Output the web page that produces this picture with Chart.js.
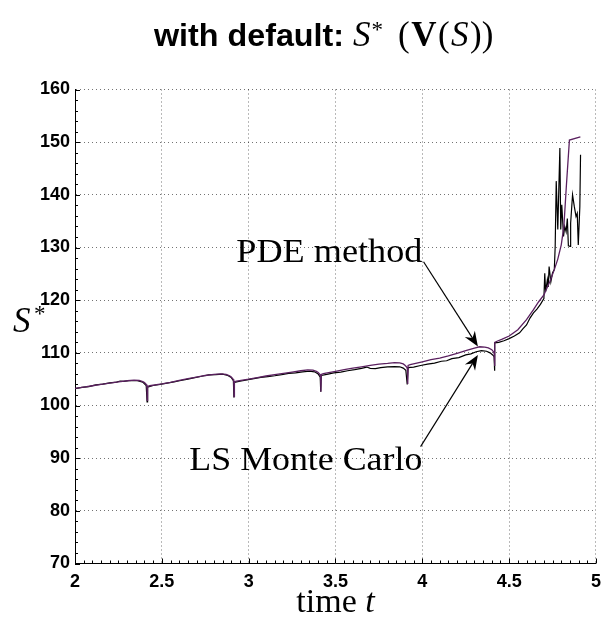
<!DOCTYPE html>
<html>
<head>
<meta charset="utf-8">
<script src="https://cdn.jsdelivr.net/npm/chart.js@4.4.0/dist/chart.umd.min.js"></script>
<style>
  html, body { margin: 0; padding: 0; background: #fff; }
  #wrap { position: relative; width: 609px; height: 622px; }
</style>
</head>
<body>
<div id="wrap"><canvas id="chart" width="609" height="622"></canvas></div>
<script>
// --- values ---
// PDE method (purple)
const pdeT = [2.00, 2.05, 2.10, 2.15, 2.20, 2.25, 2.30, 2.34, 2.37, 2.39, 2.40, 2.41, 2.414, 2.416, 2.418, 2.43,
  2.50, 2.55, 2.60, 2.65, 2.70, 2.75, 2.80, 2.84, 2.87, 2.89, 2.90, 2.91, 2.914, 2.916, 2.918, 2.93,
  3.00, 3.05, 3.10, 3.15, 3.20, 3.25, 3.30, 3.34, 3.37, 3.39, 3.40, 3.41, 3.414, 3.416, 3.418, 3.43,
  3.50, 3.55, 3.60, 3.65, 3.70, 3.75, 3.80, 3.84, 3.87, 3.89, 3.90, 3.91, 3.914, 3.916, 3.918, 3.93,
  4.00, 4.05, 4.10, 4.15, 4.20, 4.25, 4.30, 4.33, 4.36, 4.38, 4.40, 4.41, 4.414, 4.416, 4.418,
  4.43, 4.46, 4.50, 4.55, 4.60, 4.64, 4.67, 4.70, 4.735, 4.76, 4.78, 4.80, 4.815, 4.83, 4.847, 4.91];
const pdeS = [103.25, 103.5, 103.75, 104.0, 104.25, 104.5, 104.7, 104.8, 104.75, 104.55, 104.35, 104.0, 103.6, 101.0, 103.6, 103.75,
  104.1, 104.4, 104.75, 105.1, 105.4, 105.7, 105.9, 106.0, 105.9, 105.65, 105.4, 105.0, 104.6, 101.7, 104.5, 104.65,
  105.0, 105.3, 105.6, 105.85, 106.1, 106.35, 106.6, 106.75, 106.7, 106.5, 106.25, 105.9, 105.5, 102.6, 105.9, 106.05,
  106.5, 106.8, 107.1, 107.35, 107.6, 107.85, 108.0, 108.15, 108.1, 107.9, 107.65, 107.3, 106.9, 104.1, 107.6, 107.75,
  108.3, 108.7, 109.0, 109.4, 109.9, 110.4, 110.9, 111.15, 111.1, 110.95, 110.6, 110.2, 109.8, 107.5, 112.0,
  112.2, 112.6, 113.2, 114.4, 116.3, 118.2, 119.7, 121.0, 123.6, 125.8, 127.8, 130.5, 134.0, 142.0, 150.4, 151.0];

// LS Monte Carlo (black)
const mcT = [2.00, 2.04, 2.08, 2.12, 2.16, 2.20, 2.24, 2.26, 2.28, 2.32, 2.36, 2.39, 2.41, 2.415, 2.418,
  2.45, 2.49, 2.53, 2.57, 2.61, 2.65, 2.69, 2.73, 2.77, 2.81, 2.85, 2.88, 2.90, 2.912, 2.915, 2.918,
  2.95, 2.99, 3.03, 3.07, 3.11, 3.15, 3.19, 3.23, 3.27, 3.31, 3.35, 3.38, 3.40, 3.412, 3.415, 3.418,
  3.45, 3.49, 3.53, 3.57, 3.61, 3.65, 3.68, 3.70, 3.73, 3.76, 3.80, 3.84, 3.87, 3.89, 3.905, 3.913, 3.918,
  3.95, 3.99, 4.03, 4.07, 4.11, 4.14, 4.17, 4.21, 4.25, 4.28, 4.31, 4.34, 4.37, 4.39, 4.405, 4.413, 4.415, 4.418,
  4.44, 4.47, 4.50, 4.53, 4.56, 4.58, 4.60, 4.62, 4.64, 4.66, 4.68, 4.70, 4.705, 4.71, 4.72, 4.725, 4.73, 4.74,
  4.75, 4.76, 4.765, 4.771, 4.78, 4.792, 4.797, 4.803, 4.813, 4.82, 4.828, 4.835, 4.841, 4.851, 4.854,
  4.865, 4.875, 4.885, 4.892, 4.898, 4.907, 4.911];
const mcS = [103.2, 103.45, 103.6, 103.9, 104.05, 104.3, 104.45, 104.65, 104.6, 104.75, 104.7, 104.45, 103.8, 100.7, 103.5,
  103.8, 104.0, 104.25, 104.5, 104.75, 105.0, 105.3, 105.55, 105.8, 105.85, 105.95, 105.7, 105.3, 104.7, 101.5, 104.4,
  104.6, 104.85, 105.1, 105.35, 105.5, 105.65, 105.85, 106.1, 106.2, 106.4, 106.5, 106.4, 106.0, 105.4, 102.6, 105.7,
  105.9, 106.2, 106.35, 106.6, 106.8, 107.05, 107.3, 107.05, 107.0, 107.2, 107.35, 107.4, 107.35, 107.1, 106.7, 104.0, 107.2,
  107.3, 107.6, 107.85, 108.05, 108.4, 108.5, 108.9, 109.1, 109.6, 109.8, 110.2, 110.4, 110.3, 110.0, 109.6, 109.3, 106.6, 111.9,
  112.0, 112.3, 112.7, 113.2, 113.8, 114.6, 115.3, 116.6, 117.6, 118.3, 119.2, 120.3, 125.1, 121.6, 123.9, 122.5, 126.4, 123.5,
  125.2, 125.8, 130.2, 142.6, 133.4, 148.9, 133.4, 138.1, 132.1, 134.0, 133.0, 135.5, 130.3, 130.2, 134.6,
  140.0, 137.8, 135.9, 136.5, 130.5, 137.8, 147.6];

const xTicks = [2, 2.5, 3, 3.5, 4, 4.5, 5];
const yTicks = [70, 80, 90, 100, 110, 120, 130, 140, 150, 160];

// annotation anchors, in data units
const pdeLabel = { t: 4.0, s: 127.3, tipT: 4.32, tipS: 111.2 };
const mcLabel = { t: 4.0, s: 87.7, tipT: 4.32, tipS: 109.6, startS: 92.2 };

const toXY = (ts, ss) => ts.map((t, i) => ({ x: t, y: ss[i] }));

const serif = '"Liberation Serif", "DejaVu Serif", serif';
const sans = '"Liberation Sans", Arial, sans-serif';

function arrow(ctx, x1, y1, x2, y2) {
  const a = Math.atan2(y2 - y1, x2 - x1);
  const len = 15, half = 6, notch = 10;
  ctx.beginPath();
  ctx.moveTo(x1, y1);
  ctx.lineTo(x2 - Math.cos(a) * notch, y2 - Math.sin(a) * notch);
  ctx.lineWidth = 1.2;
  ctx.strokeStyle = '#000';
  ctx.stroke();
  const bx = x2 - Math.cos(a) * len, by = y2 - Math.sin(a) * len;
  const nx = -Math.sin(a), ny = Math.cos(a);
  ctx.beginPath();
  ctx.moveTo(x2, y2);
  ctx.lineTo(bx + nx * half, by + ny * half);
  ctx.lineTo(x2 - Math.cos(a) * notch, y2 - Math.sin(a) * notch);
  ctx.lineTo(bx - nx * half, by - ny * half);
  ctx.closePath();
  ctx.fillStyle = '#000';
  ctx.fill();
}

// text squeezed/stretched to a given width, right aligned at x
function fitText(ctx, str, xRight, y, w) {
  const m = ctx.measureText(str).width;
  ctx.save();
  ctx.translate(xRight - w, y);
  ctx.scale(w / m, 1);
  ctx.textAlign = 'left';
  ctx.fillText(str, 0, 0);
  ctx.restore();
}

const decor = {
  id: 'decor',
  afterDraw(chart) {
    const { ctx, scales: { x, y }, chartArea: ca } = chart;
    ctx.save();

    // inward ticks, MATLAB style
    ctx.strokeStyle = '#000';
    ctx.lineWidth = 1;
    ctx.beginPath();
    for (let i = 0; i <= 45; i++) {
      const py = Math.round(y.getPixelForValue(70 + i * 2)) + 0.5;
      const l = i % 5 === 0 ? 5 : 3;
      ctx.moveTo(ca.left, py); ctx.lineTo(ca.left + l, py);
    }
    for (let i = 0; i <= 60; i++) {
      const px = Math.round(x.getPixelForValue(2 + i * 0.05)) + 0.5;
      const l = i % 10 === 0 ? 5 : 3;
      ctx.moveTo(px, ca.bottom); ctx.lineTo(px, ca.bottom - l);
    }
    ctx.stroke();

    // title
    const tb = 46;
    ctx.fillStyle = '#000';
    ctx.textBaseline = 'alphabetic';
    ctx.textAlign = 'left';
    ctx.font = 'bold 32px ' + sans;
    fitText(ctx, 'with default:', 344, tb, 190);
    let cx = 353;
    ctx.font = 'italic 35px ' + serif;
    ctx.fillText('S', cx, tb);
    cx += ctx.measureText('S').width + 1;
    ctx.font = '23px ' + serif;
    ctx.fillText('*', cx, tb - 9);
    cx = 398;
    const parts = [['(', '35px '], ['V', 'bold 35px '], ['(', '35px '], ['S', 'italic 35px '], ['))', '35px ']];
    parts.forEach(([s, f]) => {
      ctx.font = f + serif;
      ctx.fillText(s, cx, tb);
      cx += ctx.measureText(s).width + 1.5;
    });

    // y label
    ctx.font = 'italic 35px ' + serif;
    ctx.fillText('S', 13, 332);
    ctx.font = '23px ' + serif;
    ctx.fillText('*', 34, 321);

    // x label
    ctx.font = '34px ' + serif;
    const w1 = ctx.measureText('time ').width;
    ctx.font = 'italic 34px ' + serif;
    const w2 = ctx.measureText('t').width;
    const lx = (ca.left + ca.right) / 2 - (w1 + w2) / 2;
    ctx.font = '34px ' + serif;
    ctx.fillText('time ', lx, 612);
    ctx.font = 'italic 34px ' + serif;
    ctx.fillText('t', lx + w1, 612);

    // annotations
    ctx.font = '34px ' + serif;
    const pxr = x.getPixelForValue(pdeLabel.t);
    fitText(ctx, 'PDE method', pxr, y.getPixelForValue(pdeLabel.s), 186);
    fitText(ctx, 'LS Monte Carlo', pxr, y.getPixelForValue(mcLabel.s), 233);
    arrow(ctx, x.getPixelForValue(4.007), y.getPixelForValue(pdeLabel.s),
      x.getPixelForValue(pdeLabel.tipT), y.getPixelForValue(pdeLabel.tipS));
    arrow(ctx, x.getPixelForValue(3.99), y.getPixelForValue(mcLabel.startS),
      x.getPixelForValue(mcLabel.tipT), y.getPixelForValue(mcLabel.tipS));

    ctx.restore();
  }
};

const gridCommon = { color: 'rgba(0,0,0,0.55)', lineWidth: 1, drawTicks: false };
const borderCommon = { display: true, color: '#000', width: 1, dash: [1, 3] };
const tickFont = { family: sans, weight: 'bold', size: 18 };

new Chart(document.getElementById('chart'), {
  type: 'line',
  data: {
    datasets: [
      { label: 'PDE method', data: toXY(pdeT, pdeS), borderColor: '#5b2160', borderWidth: 1.3,
        pointRadius: 0, tension: 0, order: 0 },
      { label: 'LS Monte Carlo', data: toXY(mcT, mcS), borderColor: '#000', borderWidth: 1.2,
        pointRadius: 0, tension: 0, order: 1 }
    ]
  },
  options: {
    responsive: false,
    animation: false,
    layout: { padding: { top: 89.5, right: 6, left: 0, bottom: 0 } },
    plugins: { legend: { display: false }, tooltip: { enabled: false } },
    scales: {
      x: {
        type: 'linear', min: 2, max: 5,
        afterFit: s => { s.height = 58.5; },
        afterBuildTicks: s => { s.ticks = xTicks.map(v => ({ value: v })); },
        grid: gridCommon, border: borderCommon,
        ticks: { font: tickFont, color: '#000', padding: 8, maxRotation: 0, autoSkip: false,
          callback: v => String(v) }
      },
      y: {
        type: 'linear', min: 70, max: 160,
        afterFit: s => { s.width = 75; },
        afterBuildTicks: s => { s.ticks = yTicks.map(v => ({ value: v })); },
        grid: gridCommon, border: borderCommon,
        ticks: { font: tickFont, color: '#000', padding: 5, callback: v => String(v) }
      }
    }
  },
  plugins: [decor]
});
</script>
</body>
</html>
